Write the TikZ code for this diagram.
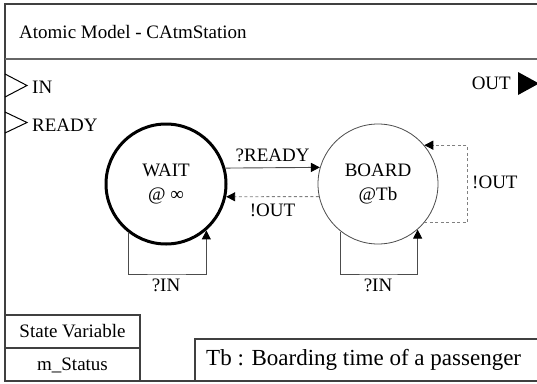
\documentclass[tikz,border=0pt]{standalone}
\usepackage{fontspec}
\setmainfont{Liberation Serif}
\newfontfamily\diagserif{Liberation Serif}
\usetikzlibrary{arrows.meta,calc}
\begin{document}
\begin{tikzpicture}[x=1pt,y=-1pt,
  txt/.style={font=\diagserif\fontsize{19}{22}\selectfont, inner sep=0pt},
  state/.style={circle, minimum size=120pt, inner sep=0pt, align=center,
    font=\diagserif\fontsize{19}{24}\selectfont},
  frameline/.style={draw=black!75, line width=1.1pt},
  conn/.style={draw=black!70, line width=0.9pt,
    -{Triangle[length=9pt,width=9pt,color=black]}},
  dconn/.style={conn, draw=black!50, dash pattern=on 3pt off 2.5pt}
]
\useasboundingbox (0,0) rectangle (537,383);
\fill[white] (0,0) rectangle (537,383);

% outer frame and header
\draw[frameline] (545,4) -- (5,4) -- (5,381) -- (545,381);
\draw[draw=black!60, line width=1.1pt] (5,59) -- (545,59);
\node[txt, anchor=west] (title) at (19,32) {Atomic Model - CAtmStation};

% ports
\draw[line width=1pt] (5,74) -- (27,85.5) -- (5,97);
\node[txt, anchor=west] (inport) at (32,87) {IN};
\draw[line width=1pt] (5,112) -- (27,122.5) -- (5,133);
\node[txt, anchor=west] (readyport) at (32,125) {READY};
\fill (518,72) -- (539,83.5) -- (518,95) -- cycle;
\node[txt, anchor=east] (outport) at (511,83) {OUT};

% states
\node[state, draw=black, line width=3pt] (wait) at (166,184) {WAIT\\@ ∞};
\node[state, draw=black!70, line width=0.8pt] (board) at (378,184) {BOARD\\@Tb};

% transitions between states
\draw[conn] (wait.15.5) -- node[txt, above=6pt] (lready) {?READY} (board.164.5);
\draw[dconn] (board.192.5) -- node[txt, below=7pt] (lout) {!OUT} (wait.-12.5);

% self loops
\coordinate (wloop) at (166,274);
\coordinate (bloop) at (378,274);
\coordinate (dloop) at (467,184);
\draw[conn] (wait.-128) |- (wloop) -| (wait.-49.5);
\node[txt] (lwin) at (166,285) {?IN};
\draw[conn] (board.-128) |- (bloop) -| (board.-49.5);
\node[txt] (lbin) at (378,285) {?IN};
\draw[dconn] (board.-40.5) -| (dloop) |- (board.40.5);
\node[txt, anchor=west] (lbout) at (472,182) {!OUT};

% state variable table
\draw[frameline] (5,315) rectangle (140,381);
\draw[frameline] (5,348) -- (140,348);
\node[txt] (svhead) at (72.5,331) {State Variable};
\node[txt] (svval) at (72.5,365) {m\_Status};

% note box
\draw[frameline] (545,339) -- (195,339) -- (195,381);
\node[inner sep=0pt, anchor=west, font=\diagserif\fontsize{23}{26}\selectfont] (note) at (206,360) {Tb : Boarding time of a passenger};
\end{tikzpicture}
\end{document}
